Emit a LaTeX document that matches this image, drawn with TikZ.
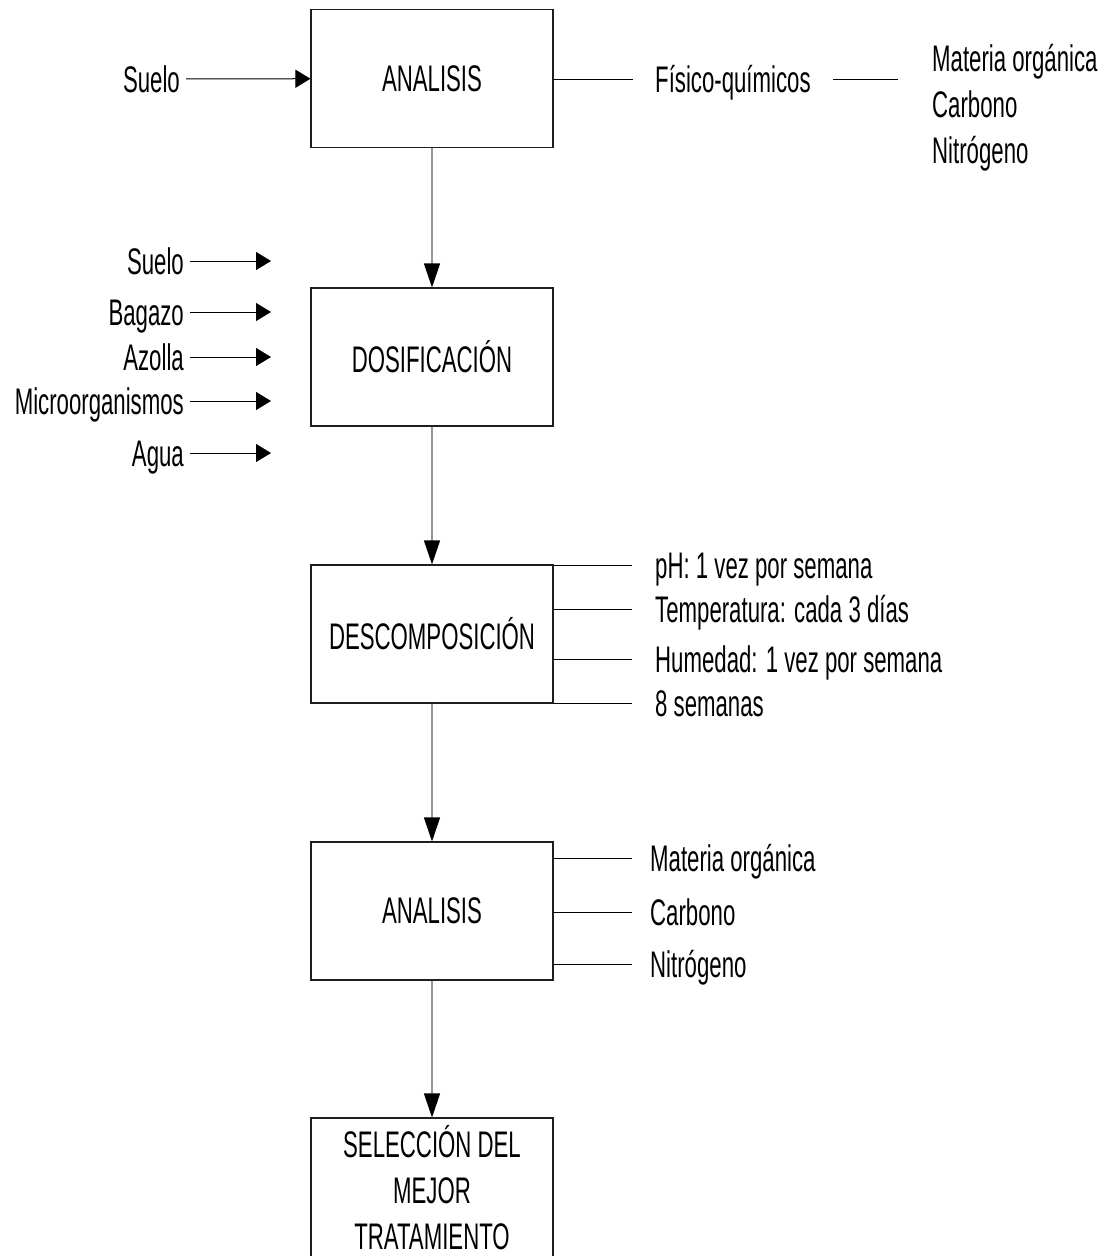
\documentclass[tikz,border=0pt]{standalone}
\usepackage{fontspec}
\setmainfont{Liberation Sans}[FakeStretch=0.6]
\usepackage{tikz}
\usetikzlibrary{arrows.meta,positioning}
\definecolor{LineGray}{RGB}{150,150,150}
\definecolor{EdgeBlack}{RGB}{30,30,30}

\begin{document}
\begin{tikzpicture}[x=1pt,y=-1pt,
  font=\fontsize{37}{46}\selectfont,
  stagebox/.style={draw=EdgeBlack,line width=1.1pt,minimum width=242pt,minimum height=138pt,inner sep=0pt,align=center},
  txt/.style={inner xsep=6pt,inner ysep=0pt,text height=26.5pt,text depth=0pt},
  flowline/.style={draw=LineGray,line width=1.3pt,-{Triangle[length=24pt,width=16pt,color=black]}},
  feedline/.style={line width=1pt,-{Triangle[length=15pt,width=18pt]}},
  tieline/.style={line width=1pt}]
  \useasboundingbox (0,0) rectangle (1109,1256);

  % stages
  \node[stagebox] (an1) at (432,78.5) {ANALISIS};
  \node[stagebox] (dos) at (432,357) {DOSIFICACIÓN};
  \node[stagebox] (dsc) at (432,634) {DESCOMPOSICIÓN};
  \node[stagebox] (an2) at (432,911) {ANALISIS};
  \node[stagebox,minimum height=140pt] (sel) at (432,1188) {SELECCIÓN DEL\\MEJOR\\TRATAMIENTO};

  \draw[flowline] (an1) -- (dos);
  \draw[flowline] (dos) -- (dsc);
  \draw[flowline] (dsc) -- (an2);
  \draw[flowline] (an2) -- (sel);

  % first analysis
  \node[txt,anchor=east] (su1) at (186,79) {Suelo};
  \draw[feedline] (su1) -- (an1);
  \node[txt,inner xsep=22pt,anchor=west] (fq) at (633,79) {Físico-químicos};
  \draw[tieline] (an1.east |- fq) -- (fq.west);
  \coordinate (fqend) at (898,79);
  \draw[tieline] (fq.east) -- (fqend);
  \node[txt,anchor=west] (mo1) at (926,58) {Materia orgánica};
  \node[txt,anchor=west] (ca1) at (926,104) {Carbono};
  \node[txt,anchor=west] (ni1) at (926,150) {Nitrógeno};

  % inputs of the dosage
  \coordinate (feedtip) at (271,0);
  \foreach \inname/\iny/\inlbl in {su2/261/Suelo,bag/312/Bagazo,azo/357/Azolla,mic/401/Microorganismos,agu/453/Agua}{
    \node[txt,anchor=east] (\inname) at (190,\iny) {\inlbl};
    \draw[feedline] (\inname.east) -- (\inname.east -| feedtip);
  }

  % decomposition checks
  \node[txt,inner xsep=23pt,anchor=west] (ph) at (632,565) {pH: 1 vez por semana};
  \node[txt,inner xsep=23pt,anchor=west] (tmp) at (632,609) {Temperatura: cada 3 días};
  \node[txt,inner xsep=23pt,anchor=west] (hum) at (632,659) {Humedad: 1 vez por semana};
  \node[txt,inner xsep=23pt,anchor=west] (sem) at (632,703) {8 semanas};
  \foreach \chk in {ph,tmp,hum,sem}
    \draw[tieline] (dsc.east |- \chk) -- (\chk.west);

  % second analysis
  \node[txt,inner xsep=18pt,anchor=west] (mo2) at (632,858) {Materia orgánica};
  \node[txt,inner xsep=18pt,anchor=west] (ca2) at (632,912) {Carbono};
  \node[txt,inner xsep=18pt,anchor=west] (ni2) at (632,964) {Nitrógeno};
  \foreach \res in {mo2,ca2,ni2}
    \draw[tieline] (an2.east |- \res) -- (\res.west);
\end{tikzpicture}
\end{document}
